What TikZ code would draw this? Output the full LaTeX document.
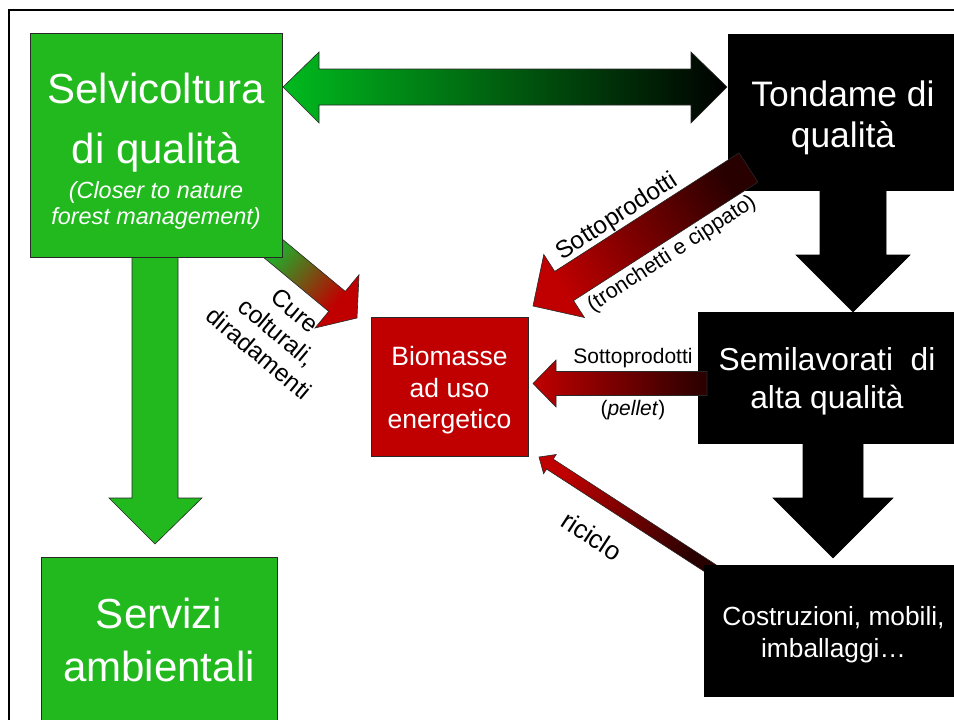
\documentclass[tikz,border=0pt]{standalone}
\usepackage{fontspec}
\setmainfont{Liberation Sans}
\definecolor{boxgreen}{RGB}{33,185,30}
\definecolor{boxred}{RGB}{192,0,0}
\definecolor{brightgreen}{RGB}{0,186,30}
\definecolor{darkred}{RGB}{40,0,0}
\definecolor{curegreen}{RGB}{40,165,40}
\definecolor{edgegray}{RGB}{40,40,40}
\newcommand{\setfs}[2]{\fontsize{#1pt}{#2pt}\selectfont}
\pgfdeclareverticalshading{cureshade}{100bp}{color(0bp)=(curegreen); color(36bp)=(curegreen); color(70bp)=(boxred); color(100bp)=(boxred)}
\tikzset{
  box/.style={rectangle, inner sep=0pt, draw=edgegray, line width=0.8pt},
  gbox/.style={box, fill=boxgreen},
  kbox/.style={box, fill=black, draw=black},
  rbox/.style={box, fill=boxred},
  wtext/.style={text=white, inner sep=0pt, anchor=base},
  btext/.style={text=black, inner sep=0pt},
  blockarrow/.style={draw=edgegray, line width=0.6pt, line join=miter},
}
\begin{document}
\begin{tikzpicture}[x=1pt,y=-1pt]
\clip (0,0) rectangle (954,720);
\fill[white] (0,0) rectangle (954,720);
% frame
\draw[line width=2pt] (9,724) -- (9,10) -- (958,10);

% arrows lying behind the boxes
\path[blockarrow, left color=brightgreen, right color=black]
  (283,87) -- (319,52) -- (319,69) -- (691,69) -- (691,52) -- (727,87)
  -- (691,123) -- (691,105) -- (319,105) -- (319,123) -- cycle;
\path[blockarrow, fill=boxgreen]
  (132,250) -- (178,250) -- (178,498) -- (202,498) -- (155,544) -- (109,498) -- (132,498) -- cycle;
\path[blockarrow, fill=black, draw=black]
  (820,185) -- (886,185) -- (886,255) -- (910,255) -- (853,312) -- (796,255) -- (820,255) -- cycle;
\path[blockarrow, fill=black, draw=black]
  (803,440) -- (863,440) -- (863,498) -- (893,498) -- (833,558) -- (773,498) -- (803,498) -- cycle;
\path[blockarrow, shading=cureshade, shading angle=-129.6]
  (260.6,221.2) -- (345.3,291.4) -- (359,274.8) -- (357,318) -- (315,328) -- (328.7,311.4) -- (244,241.2) -- cycle;
\path[blockarrow, top color=boxred, bottom color=darkred, shading angle=57]
  (716.3,565) -- (553.2,459.1) -- (556.2,454.5) -- (539,457) -- (543.6,473.7) -- (546.6,469.1) -- (709.7,575) -- cycle;

% boxes
\node[gbox, minimum width=252pt, minimum height=224pt] (selv) at (156,145) {};
\node[gbox, minimum width=236pt, minimum height=165pt] (serv) at (159,639.5) {};
\node[kbox, minimum width=230pt, minimum height=156pt] (tond) at (843,112) {};
\node[kbox, minimum width=260pt, minimum height=131pt] (semi) at (828,377.5) {};
\node[kbox, minimum width=254pt, minimum height=131pt] (cost) at (831,630.5) {};
\node[rbox, minimum width=157pt, minimum height=139pt] (bio) at (449.5,386.5) {};

% arrows on top of the boxes
\path[blockarrow, top color=boxred, bottom color=darkred, shading angle=122.7]
  (739.1,152.9) -- (554.7,271.4) -- (543.8,254.5) -- (533,306) -- (584.4,317.5) -- (573.5,300.6) -- (757.9,182.1) -- cycle;
\path[blockarrow, left color=boxred, right color=darkred]
  (707,371.5) -- (556,371.5) -- (556,360) -- (533,383.5) -- (556,407) -- (556,395.5) -- (707,395.5) -- cycle;

% box texts
\node[wtext, font=\setfs{42}{50}] (selv1) at (156,103) {Selvicoltura};
\node[wtext, font=\setfs{42}{50}] (selv2) at (156,163) {di qualità};
\node[wtext, font=\setfs{23.4}{28}\itshape] (selv3) at (156,198) {(Closer to nature};
\node[wtext, font=\setfs{23.4}{28}\itshape] (selv4) at (156,224) {forest management)};
\node[wtext, font=\setfs{35.4}{42}] (tond1) at (843,106) {Tondame di};
\node[wtext, font=\setfs{35.4}{42}] (tond2) at (843,147) {qualità};
\node[wtext, font=\setfs{31.7}{38}] (semi1) at (827,370) {Semilavorati\ \ di};
\node[wtext, font=\setfs{31.7}{38}] (semi2) at (827,408) {alta qualità};
\node[wtext, font=\setfs{26.5}{32}] (bio1) at (449.5,365) {Biomasse};
\node[wtext, font=\setfs{26.5}{32}] (bio2) at (449.5,397) {ad uso};
\node[wtext, font=\setfs{26.5}{32}] (bio3) at (449.5,428) {energetico};
\node[wtext, font=\setfs{42}{50}] (serv1) at (159,628) {Servizi};
\node[wtext, font=\setfs{42}{50}] (serv2) at (159,681) {ambientali};
\node[wtext, font=\setfs{26.3}{32}] (cost1) at (833.5,625) {Costruzioni, mobili,};
\node[wtext, font=\setfs{26.3}{32}] (cost2) at (833.5,657) {imballaggi…};

% arrow labels
\node[btext, rotate=-40, align=center, font=\setfs{24.5}{28}] (cure) at (277,332) {Cure\\colturali,\\diradamenti};
\node[btext, rotate=33, font=\setfs{24.5}{28}] (sott1) at (617,217) {Sottoprodotti};
\node[btext, rotate=33, font=\setfs{21.5}{26}] (tronc) at (672,254) {(tronchetti e cippato)};
\node[btext, font=\setfs{21}{25}] (sott2) at (633,358) {Sottoprodotti};
\node[btext, font=\setfs{21}{25}] (pell) at (633,410) {(\textit{pellet})};
\node[btext, rotate=-33, font=\setfs{26}{30}] (ricic) at (592,536) {riciclo};
\end{tikzpicture}
\end{document}
